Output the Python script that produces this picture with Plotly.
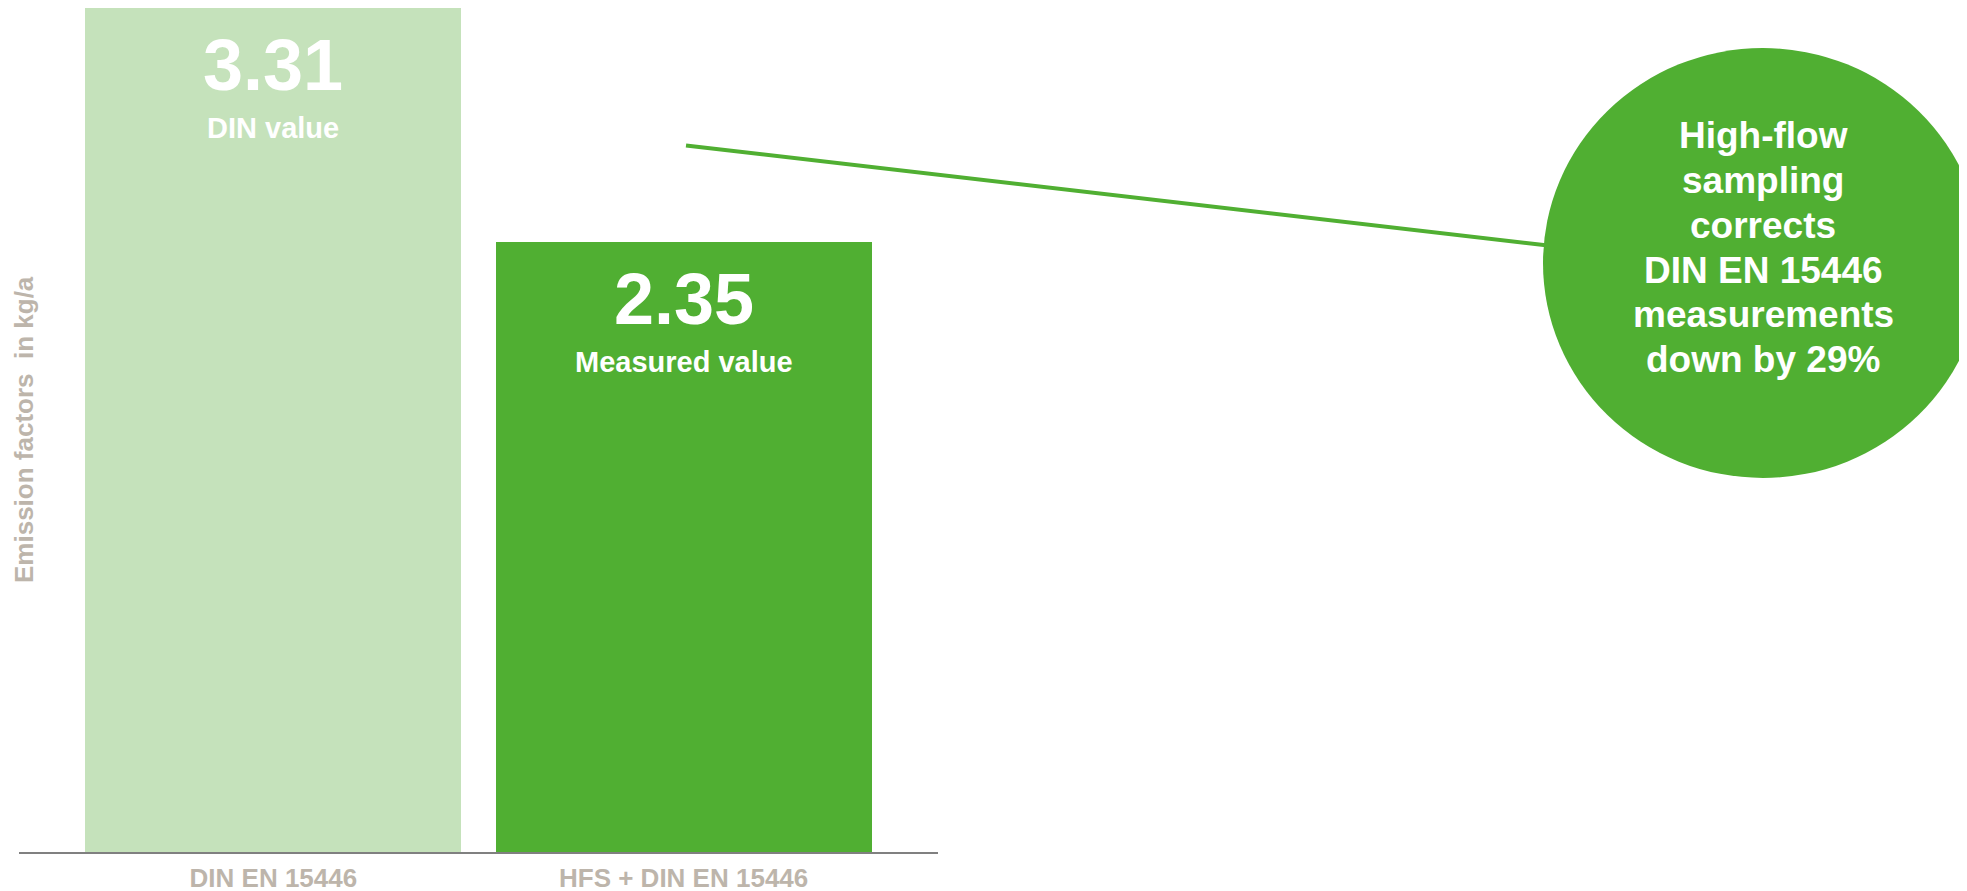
import plotly.graph_objects as go

# ---- data ----
categories = ["DIN EN 15446", "HFS + DIN EN 15446"]
values = [3.31, 2.35]
bar_labels = ["DIN value", "Measured value"]
y_title = "Emission factors  in kg/a"
callout_lines = ["High-flow", "sampling", "corrects", "DIN EN 15446", "measurements", "down by 29%"]

# ---- styling ----
W, H = 1967, 891
OFF = 8  # page body margin offset
FONT = "Liberation Sans, Arial, sans-serif"
LIGHT = "#C5E2BB"
DARK = "#50AF32"
GREY_TXT = "#BDB5AB"
AXIS = "#808080"

# plot area in page pixels
PL, PR, PT, PB = 19 - OFF, 938 - OFF, 0, 852 - OFF
Y_MAX = 3.2515
X_RANGE = [-0.62, 1.62]


def px(x):
    return (x - OFF - PL) / (PR - PL)


def py(y):
    return (PB - (y - OFF)) / (PB - PT)


fig = go.Figure()
fig.add_trace(go.Bar(
    x=list(range(len(categories))),
    y=values,
    marker=dict(color=[LIGHT, DARK], line=dict(width=0)),
    width=0.917,
    hoverinfo="skip",
))

annotations = []
for i, (v, lab) in enumerate(zip(values, bar_labels)):
    top = min(v, Y_MAX)
    annotations.append(dict(x=i, y=top, xref="x", yref="y", text=f"{v:.2f}",
                            showarrow=False, yanchor="middle", xanchor="center", yshift=-57,
                            font=dict(family=FONT, size=72, color="white", weight="bold")))
    annotations.append(dict(x=i, y=top, xref="x", yref="y", text=lab,
                            showarrow=False, yanchor="middle", xanchor="center", yshift=-120,
                            font=dict(family=FONT, size=29, color="white", weight="bold")))

annotations.append(dict(x=px(24), y=0.5, xref="paper", yref="paper", text=y_title,
                        textangle=-90, showarrow=False, xanchor="center", yanchor="middle",
                        font=dict(family=FONT, size=26, color=GREY_TXT, weight="bold")))

# callout circle text
cx = 1763
first_center = 135.8
spacing = 44.8
for k, line in enumerate(callout_lines):
    annotations.append(dict(x=px(cx), y=py(first_center + k * spacing), xref="paper", yref="paper",
                            text=line, showarrow=False, xanchor="center", yanchor="middle",
                            font=dict(family=FONT, size=37, color="white", weight="bold")))

shapes = [
    dict(type="line", xref="paper", yref="paper", x0=px(686), y0=py(145.5), x1=px(1548), y1=py(245.5),
         line=dict(color=DARK, width=4), layer="below"),
    dict(type="circle", xref="paper", yref="paper", x0=px(1543), x1=px(1983), y0=py(478), y1=py(48),
         fillcolor=DARK, line=dict(width=0), layer="above"),
]

fig.update_layout(
    width=W, height=H,
    margin=dict(l=PL, r=W - PR, t=PT, b=H - PB, pad=0),
    paper_bgcolor="white", plot_bgcolor="white",
    showlegend=False,
    bargap=0,
    xaxis=dict(range=X_RANGE, tickmode="array", tickvals=list(range(len(categories))),
               ticktext=categories, showgrid=False, zeroline=False, showline=True,
               linecolor=AXIS, linewidth=2, ticks="", fixedrange=True, ticklabelstandoff=2,
               tickfont=dict(family=FONT, size=26, color=GREY_TXT, weight="bold")),
    yaxis=dict(range=[0, Y_MAX], showgrid=False, zeroline=False, showticklabels=False,
               showline=False, ticks="", fixedrange=True),
    annotations=annotations,
    shapes=shapes,
)

fig.write_html("out.html", config={"displayModeBar": False})
